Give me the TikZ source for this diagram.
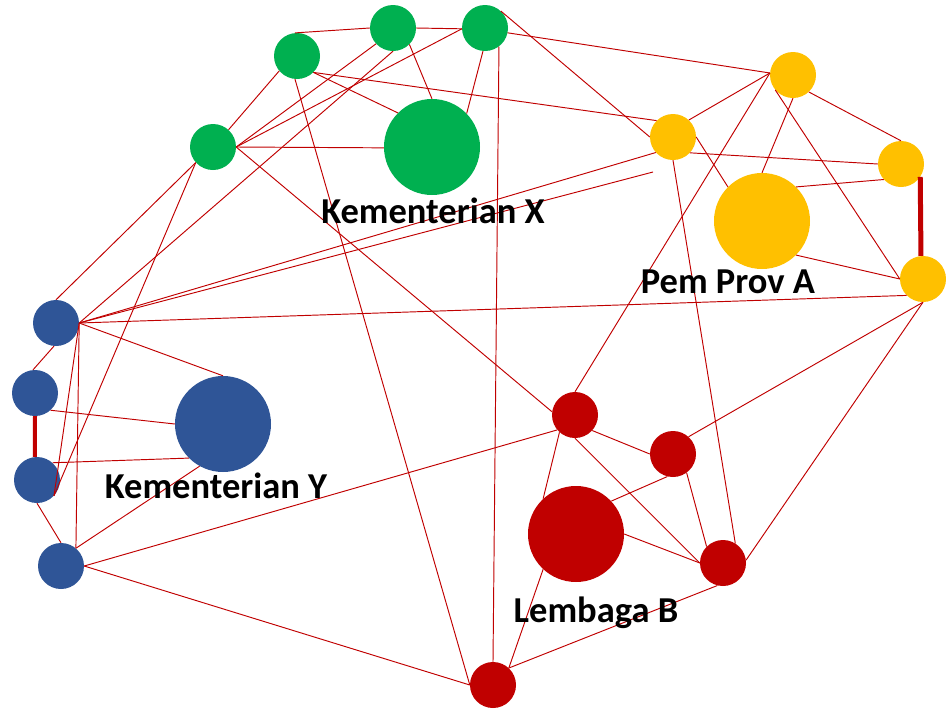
\documentclass[tikz,border=0pt]{standalone}
\usepackage{fontspec}
\setmainfont{Carlito}
\definecolor{kgreen}{HTML}{00B050}
\definecolor{kyellow}{HTML}{FFC000}
\definecolor{kblue}{HTML}{2F5597}
\definecolor{kred}{HTML}{C00000}
\begin{document}
\begin{tikzpicture}[x=1pt,y=-1pt,
  dot/.style={circle,inner sep=0pt,minimum size=46pt,draw=none},
  hub/.style={circle,inner sep=0pt,minimum size=96pt,draw=none},
  link/.style={draw=kred,line width=0.95pt},
  bond/.style={draw=kred,line width=5pt},
  lbl/.style={font=\bfseries\fontsize{36.5}{40}\selectfont,anchor=base,inner sep=0pt,text=black}
]
\useasboundingbox (0,0) rectangle (946,710);

% green cluster
\node[dot,fill=kgreen] (g1) at (297,56) {};
\node[dot,fill=kgreen] (g2) at (393,28) {};
\node[dot,fill=kgreen] (g3) at (485,28) {};
\node[dot,fill=kgreen] (g4) at (213,147) {};
\node[hub,fill=kgreen] (gX) at (432,147) {};

% yellow cluster
\node[dot,fill=kyellow] (y1) at (793,75) {};
\node[dot,fill=kyellow] (y2) at (673,137) {};
\node[dot,fill=kyellow] (y3) at (901,164) {};
\node[dot,fill=kyellow] (y4) at (923,279) {};
\node[hub,fill=kyellow] (yA) at (762,221) {};

% blue cluster
\node[dot,fill=kblue] (b1) at (56,323) {};
\node[dot,fill=kblue] (b2) at (35,393) {};
\node[dot,fill=kblue] (b3) at (37,480) {};
\node[dot,fill=kblue] (b4) at (61,566) {};
\node[hub,fill=kblue] (bY) at (223,424) {};

% red cluster
\node[dot,fill=kred] (r1) at (575,415) {};
\node[dot,fill=kred] (r2) at (673,454) {};
\node[dot,fill=kred] (r3) at (723,563) {};
\node[dot,fill=kred] (r4) at (493,685) {};
\node[hub,fill=kred] (rB) at (576,534) {};

\coordinate (loose) at (653,172);

% links from the green cluster
\draw[link] (g1.95) -- (g2.180);
\draw[link] (g2.0) -- (g3.182);
\draw[link] (g3.-12) -- (y1.175);
\draw[link] (g3.47) -- (y2.180);
\draw[link] (g1.-45) -- (y2.135);
\draw[link] (g1.-45) -- (gX.135);
\draw[link] (g1.220) -- (g4.48);
\draw[link] (g1.265) -- (r4.180);
\draw[link] (g4.0) -- (g2.223);
\draw[link] (g4.0) -- (g3.182);
\draw[link] (g4.0) -- (gX.181);
\draw[link] (g4.0) -- (r1.172);
\draw[link] (g4.222) -- (b1.90);
\draw[link] (g4.222) -- (b3.-43);
\draw[link] (g2.270) -- (b1.0);
\draw[link] (g2.-45) -- (gX.90);
\draw[link] (g3.265) -- (gX.44);
\draw[link] (g3.307) -- (r4.90);

% links from the yellow cluster
\draw[link] (y2.47) -- (y1.175);
\draw[link] (y1.175) -- (r1.90);
\draw[link] (y1.270) -- (yA.90);
\draw[link] (y1.220) -- (y4.180);
\draw[link] (y1.-47) -- (y3.90);
\draw[link] (y2.-43) -- (y3.180);
\draw[link] (y2.0) -- (yA.135);
\draw[link] (y2.270) -- (r3.58);
\draw[link] (yA.45) -- (y3.222);
\draw[link] (yA.-45) -- (y4.180);
\draw[bond] (y3.-34) -- (y4.95);
\draw[link] (y4.225) -- (b1.0);
\draw[link] (y4.270) -- (r2.48);
\draw[link] (y4.270) -- (r3.7);

% links from the blue cluster
\draw[link] (b1.0) -- (y2.222);
\draw[link] (b1.0) -- (loose);
\draw[link] (b1.0) -- (bY.90);
\draw[link] (b1.0) -- (b3.-43);
\draw[link] (b1.0) -- (b4.50);
\draw[link] (b1.265) -- (b2.95);
\draw[bond,line width=4pt] (b2.270) -- (b3.95);
\draw[link] (b2.-48) -- (bY.180);
\draw[link] (b3.48) -- (bY.225);
\draw[link] (b3.270) -- (b4.90);
\draw[link] (b4.50) -- (bY.241);
\draw[link] (b4.0) -- (r1.220);
\draw[link] (b4.0) -- (r4.180);

% links inside the red cluster
\draw[link] (r1.-42) -- (r2.180);
\draw[link] (r1.228) -- (rB.133);
\draw[link] (r1.270) -- (r3.180);
\draw[link] (r2.256) -- (rB.43);
\draw[link] (r2.-54) -- (r3.135);
\draw[link] (rB.0) -- (r3.180);
\draw[link] (rB.227) -- (r4.47);
\draw[link] (r3.256) -- (r4.47);

% cluster labels
\node[lbl] (tX) at (433,223) {Kementerian X};
\node[lbl] (tA) at (728,293) {Pem Prov A};
\node[lbl] (tY) at (216,498) {Kementerian Y};
\node[lbl] (tB) at (596,622) {Lembaga B};
\end{tikzpicture}
\end{document}
